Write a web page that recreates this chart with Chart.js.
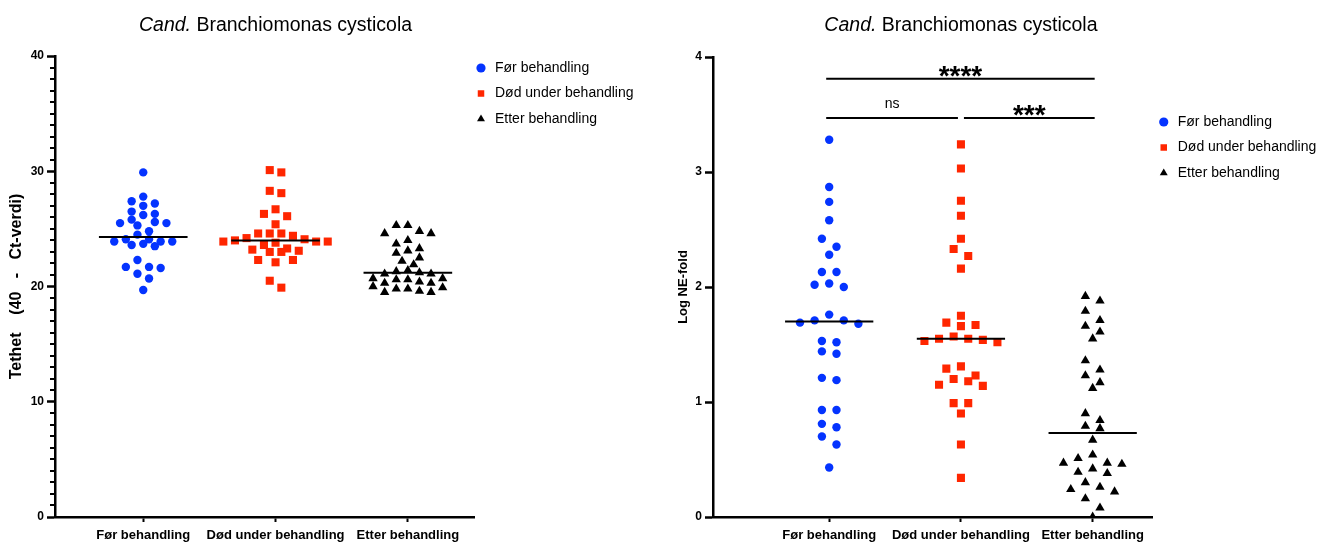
<!DOCTYPE html>
<html>
<head>
<meta charset="utf-8">
<script src="https://cdn.jsdelivr.net/npm/chart.js@4.4.1/dist/chart.umd.min.js"></script>
<style>
  body { margin: 0; background: #fff; }
  .boks { position: absolute; top: 0; height: 545px; }
</style>
</head>
<body>
<div class="boks" style="left:0;width:660px"><canvas id="venstre"></canvas></div>
<div class="boks" style="left:660px;width:677px"><canvas id="hoyre"></canvas></div>
<script>
const grupper = ['Før behandling', 'Død under behandling', 'Etter behandling']
const tittelKursiv = 'Cand.'
const tittelRest = ' Branchiomonas cysticola'

// venstre: Tethet (40 - Ct-verdi)
const tethetFor = [29.9, 27.8, 27.0, 27.2, 27.4, 26.2, 26.5, 26.3, 25.6, 25.5, 25.5, 25.8, 25.3, 24.8, 24.5,
  24.1, 23.7, 23.9, 23.9, 23.5, 23.6, 23.9, 24.1, 22.3, 21.7, 21.7, 21.6, 21.1, 20.7, 19.7]
const tethetDod = [30.1, 29.9, 28.3, 28.1, 26.7, 26.3, 26.1, 25.4, 24.6, 23.9, 24.4, 23.6, 24.1, 24.6, 23.8,
  23.9, 24.2, 24.6, 23.9, 23.3, 24.0, 23.1, 23.0, 23.0, 23.2, 22.3, 22.3, 22.1, 20.5, 19.9]
const tethetEtter = [25.3, 25.3, 24.6, 24.6, 24.8, 24.0, 23.7, 23.1, 22.9, 23.3, 22.2, 22.5, 21.9, 21.4, 21.1, 21.3,
  21.2, 21.1, 20.3, 20.7, 20.6, 20.7, 20.3, 20.6, 20.4, 19.6, 20.0, 19.8, 19.9, 19.5, 19.8, 19.5]
const tethetMidt = [24.3, 24.0, 21.2]

// høyre: Log NE-fold
const neFor = [3.28, 2.87, 2.74, 2.58, 2.42, 2.35, 2.28, 2.13, 2.13, 2.00, 2.03, 2.02, 1.71, 1.76, 1.68,
  1.69, 1.71, 1.53, 1.52, 1.42, 1.44, 1.19, 1.21, 0.93, 0.93, 0.81, 0.78, 0.70, 0.63, 0.43]
const neDod = [3.24, 3.03, 2.75, 2.62, 2.42, 2.33, 2.27, 2.16, 1.75, 1.69, 1.66, 1.67, 1.53, 1.57, 1.52,
  1.55, 1.54, 1.55, 1.31, 1.29, 1.23, 1.18, 1.20, 1.15, 1.14, 0.99, 0.99, 0.90, 0.63, 0.34]
const neEtter = [1.92, 1.88, 1.79, 1.71, 1.66, 1.61, 1.55, 1.36, 1.28, 1.23, 1.17, 1.12, 0.90, 0.84, 0.77, 0.79,
  0.67, 0.54, 0.51, 0.46, 0.47, 0.47, 0.42, 0.38, 0.39, 0.30, 0.24, 0.26, 0.22, 0.16, 0.08, 0.00]
const neMidt = [1.70, 1.55, 0.73]

const sigPar = [[1, 3], [1, 2], [2, 3]]
const sigTekst = ['****', 'ns', '***']

const skrift = "'Liberation Sans', Arial, sans-serif"
const farger = ['#0433ff', '#ff2600', '#000000']
const punktStil = ['circle', 'rect', 'triangle']
const punktStr = [4.2, 5.7, 5.4]

// tittel med kursiv "Cand."
const tittel = {
  id: 'tittel',
  afterDraw(c) {
    const ctx = c.ctx
    const x = c.scales.x.getPixelForValue(2)
    ctx.save()
    ctx.fillStyle = '#000'
    ctx.textBaseline = 'middle'
    ctx.textAlign = 'left'
    ctx.font = 'italic 19.5px ' + skrift
    const w1 = ctx.measureText(tittelKursiv).width
    ctx.font = '19.5px ' + skrift
    const w2 = ctx.measureText(tittelRest).width
    const x0 = x - (w1 + w2) / 2
    ctx.font = 'italic 19.5px ' + skrift
    ctx.fillText(tittelKursiv, x0, 26)
    ctx.font = '19.5px ' + skrift
    ctx.fillText(tittelRest, x0 + w1, 26)
    ctx.restore()
  }
}

const smaaStreker = {
  id: 'smaaStreker',
  afterDraw(c) {
    const s = c.scales.y, ctx = c.ctx
    ctx.save()
    ctx.strokeStyle = '#000'
    ctx.lineWidth = 2
    for (let v = s.min; v <= s.max; v++) {
      if (v % 10 === 0) continue
      const y = Math.round(s.getPixelForValue(v))
      ctx.beginPath()
      ctx.moveTo(s.right - 5, y)
      ctx.lineTo(s.right, y)
      ctx.stroke()
    }
    ctx.restore()
  }
}

const signifikans = {
  id: 'signifikans',
  afterDraw(c) {
    const sx = c.scales.x, sy = c.scales.y, ctx = c.ctx
    const nivaa = [3.81, 3.47, 3.47]
    ctx.save()
    ctx.strokeStyle = '#000'
    ctx.fillStyle = '#000'
    ctx.lineWidth = 2
    ctx.textAlign = 'center'
    ctx.textBaseline = 'alphabetic'
    sigPar.forEach((p, i) => {
      const y = sy.getPixelForValue(nivaa[i])
      let x1 = sx.getPixelForValue(p[0]) - 3
      let x2 = sx.getPixelForValue(p[1]) + 2
      if (i === 1) x2 = sx.getPixelForValue(p[1]) - 3
      if (i === 2) x1 = sx.getPixelForValue(p[0]) + 3
      ctx.beginPath()
      ctx.moveTo(x1, y)
      ctx.lineTo(x2, y)
      ctx.stroke()
      if (sigTekst[i] === 'ns') {
        ctx.font = '14px ' + skrift
        ctx.fillText(sigTekst[i], (x1 + x2) / 2, y - 10)
      } else {
        ctx.font = 'bold 28px ' + skrift
        ctx.fillText(sigTekst[i], (x1 + x2) / 2, y + 6)
      }
    })
    ctx.restore()
  }
}

// flytt legenden litt; høyrekanten settes til lerretskanten så teksten ikke klippes
const flyttLegende = (dx, dy) => ({
  id: 'flyttLegende',
  afterLayout(c) {
    c.legend.left += dx
    c.legend.right = c.width
    c.legend.top += dy
    c.legend.bottom += dy
  }
})

function lagGraf(id, o) {
  const datasett = []
  o.serier.forEach((verdier, i) => {
    datasett.push({
      label: grupper[i],
      data: verdier.map(v => ({ x: i + 1, y: v })),
      pointStyle: punktStil[i],
      pointRadius: punktStr[i],
      pointBackgroundColor: farger[i],
      pointBorderColor: farger[i],
      backgroundColor: farger[i],
      borderColor: farger[i],
      pointBorderWidth: 0,
      order: 1
    })
  })
  o.midt.forEach((m, i) => {
    datasett.push({
      label: 'midt',
      data: [{ x: i + 1 - 0.335, y: m }, { x: i + 1 + 0.335, y: m }],
      showLine: true,
      borderColor: '#000',
      borderWidth: 2,
      pointRadius: 0,
      order: 0
    })
  })

  const fetFont = { family: skrift, size: 12, weight: 'bold' }
  const graf = new Chart(document.getElementById(id), {
    type: 'scatter',
    data: { datasets: datasett },
    plugins: o.plugins,
    options: {
      responsive: true,
      maintainAspectRatio: false,
      animation: false,
      events: [],
      layout: { padding: { top: o.topp, right: o.hoyrePad, left: 0, bottom: 0 } },
      plugins: {
        tooltip: { enabled: false },
        legend: {
          position: 'right',
          align: 'start',
          labels: {
            usePointStyle: true,
            boxHeight: 6.5,
            padding: 11.5,
            color: '#000',
            font: { family: skrift, size: 14 },
            filter: item => item.text !== 'midt'
          }
        }
      },
      scales: {
        x: {
          type: 'linear',
          min: o.xmin,
          max: o.xmax,
          afterBuildTicks(s) { s.ticks = grupper.map((g, i) => ({ value: i + 1 })) },
          ticks: {
            callback: v => grupper[v - 1],
            autoSkip: false,
            maxRotation: 0,
            color: '#000',
            font: { family: skrift, size: 13, weight: 'bold' },
            padding: 6
          },
          grid: { drawOnChartArea: false, tickLength: 5, tickWidth: 2, tickColor: '#000' },
          border: { color: '#000', width: 2.5 },
          afterFit(s) { s.height = 28 }
        },
        y: {
          min: 0,
          max: o.ymax,
          ticks: { stepSize: o.ysteg, color: '#000', font: fetFont, padding: 3 },
          grid: { drawOnChartArea: false, tickLength: 8, tickWidth: 2.5, tickColor: '#000' },
          border: { color: '#000', width: 2.5 },
          title: {
            display: true,
            text: o.ytittel,
            color: '#000',
            font: { family: skrift, size: o.tittelStr, weight: 'bold' },
            padding: { top: o.tittelPad, bottom: 0 }
          },
          afterFit(s) { s.width = o.ybredde }
        }
      }
    }
  })

  // legg punktene i rader (som en bisverm) rundt hver kategori
  const sx = graf.scales.x, sy = graf.scales.y
  const perX = sx.getPixelForValue(2) - sx.getPixelForValue(1)
  o.serier.forEach((verdier, i) => {
    const rekke = verdier.map((v, j) => ({ v, j, py: sy.getPixelForValue(v) })).sort((a, b) => b.v - a.v)
    const ut = []
    let rad = []
    const tomRad = () => {
      const n = rad.length
      const plass = rad.map((_, k) => k - (n - 1) / 2).sort((a, b) => Math.abs(a) - Math.abs(b) || a - b)
      rad.forEach((p, k) => { ut[p.j] = { x: i + 1 + plass[k] * o.steg / perX, y: p.v } })
      rad = []
    }
    rekke.forEach(p => {
      if (rad.length && p.py - rad[0].py > o.rad) tomRad()
      rad.push(p)
    })
    tomRad()
    graf.data.datasets[i].data = ut
  })
  graf.update('none')
  return graf
}

lagGraf('venstre', {
  serier: [tethetFor, tethetDod, tethetEtter],
  midt: tethetMidt,
  ymax: 40, ysteg: 10,
  ytittel: 'Tethet    (40   -   Ct-verdi)',
  tittelStr: 16, tittelPad: 7, ybredde: 55,
  xmin: 0.333, xmax: 3.5,
  topp: 56, hoyrePad: 28,
  steg: 11.6, rad: 9,
  plugins: [tittel, smaaStreker, flyttLegende(-11.5, -6.5)]
})

lagGraf('hoyre', {
  serier: [neFor, neDod, neEtter],
  midt: neMidt,
  ymax: 4, ysteg: 1,
  ytittel: 'Log NE-fold',
  tittelStr: 13, tittelPad: 16, ybredde: 53,
  xmin: 0.118, xmax: 3.456,
  topp: 57, hoyrePad: 20,
  steg: 14.6, rad: 10,
  plugins: [tittel, signifikans, flyttLegende(-7.5, 46.5)]
})
</script>
</body>
</html>
